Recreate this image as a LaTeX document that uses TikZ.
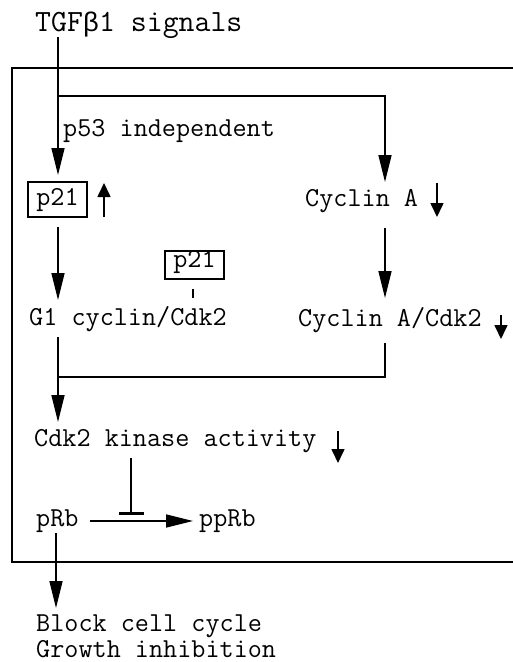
\documentclass[tikz,border=0pt]{standalone}
\usepackage{fontspec}
\newfontfamily\cour{Liberation Mono}
\usetikzlibrary{arrows.meta}
\newcommand\txtfont{\ttfamily\fontsize{27.4}{32}\selectfont\addfontfeatures{FakeBold=0.6}}
\tikzset{
  lbl/.style={anchor=base west, inner sep=0pt, font=\txtfont},
  ttl/.style={anchor=base west, inner sep=0pt, font=\ttfamily\fontsize{30.9}{36}\selectfont\addfontfeatures{FakeBold=0.6}},
  pbox/.style={draw, line width=1.8pt, inner sep=0pt, minimum width=59pt, anchor=base, font=\txtfont},
  ln/.style={line width=1.6pt},
  arr/.style={ln, -{Triangle[length=27pt,width=13pt]}},
  sarr/.style={ln, -{Triangle[length=14pt,width=13pt]}},
  inh/.style={ln, -{Bar[width=25pt,line width=2.6pt]}},
}
\begin{document}
\begin{tikzpicture}[x=1pt,y=-1pt]
\useasboundingbox (0,0) rectangle (513,662);
% outer frame (open at right edge)
\draw[line width=1.8pt] (513,68) -- (12,68) -- (12,562) -- (513,562);

% texts
\node[ttl] (title) at (35,31) {TGF{\cour\fontsize{27}{32}\selectfont β}1 signals};
\node[lbl] (p53) at (63,136) {p53 independent};
\node[pbox, text height=23pt, text depth=12pt] (p21a) at (57.5,205) {p21};
\node[lbl] (cycA) at (305,206) {Cyclin A};
\node[pbox, text height=16pt, text depth=12pt] (p21b) at (194.5,267) {p21};
\node[lbl] (g1) at (29,325) {G1 cyclin/Cdk2};
\node[lbl] (cycAcdk) at (298,326) {Cyclin A/Cdk2};
\node[lbl] (cdk2) at (34,446) {Cdk2 kinase activity};
\node[lbl] (prb) at (36,526) {pRb};
\node[lbl] (pprb) at (199,526) {ppRb};
\node[lbl] (block) at (36,631) {Block cell cycle};
\node[lbl] (growth) at (36,657) {Growth inhibition};

% coordinates for connector ends
\coordinate (top) at (58,37);
\coordinate (brk) at (58,96);
\coordinate (p21in) at (58,175);
\coordinate (cAin) at (385,182);
\coordinate (p21out) at (58,227);
\coordinate (g1in) at (58,300);
\coordinate (cAout) at (385,228);
\coordinate (cAcin) at (385,298);
\coordinate (tick1) at (193,289);
\coordinate (tick2) at (193,298);
\coordinate (g1out) at (58,337);
\coordinate (join) at (58,377);
\coordinate (cAcout) at (385,343);
\coordinate (cdkin) at (58,422);
\coordinate (inhs) at (131,458);
\coordinate (inhe) at (131,515);
\coordinate (prbout) at (90,521);
\coordinate (pprbin) at (193,521);
\coordinate (prbdown) at (56,533);
\coordinate (blockin) at (56,608);

% connectors
\draw[arr] (top) -- (p21in);
\draw[arr] (brk) -| (cAin);
\draw[arr] (p21out) -- (g1in);
\draw[arr] (cAout) -- (cAcin);
\draw[ln] (tick1) -- (tick2);
\draw[arr] (g1out) -- (cdkin);
\draw[ln] (cAcout) |- (join);
\draw[inh] (inhs) -- (inhe);
\draw[arr] (prbout) -- (pprbin);
\draw[arr] (prbdown) -- (blockin);

% small up/down indicators
\draw[sarr] (104,217) -- (104,183);
\draw[sarr] (437,183) -- (437,217);
\draw[sarr] (501,315) -- (501,339);
\draw[sarr] (338,431) -- (338,463);
\end{tikzpicture}
\end{document}
